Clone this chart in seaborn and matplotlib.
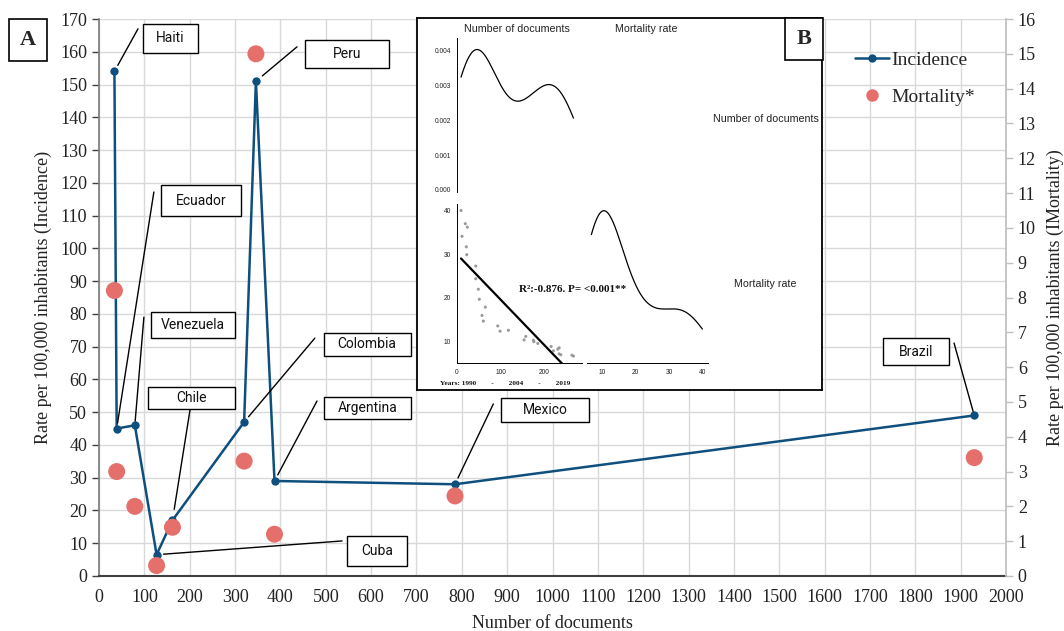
import numpy as np
import pandas as pd
import matplotlib
matplotlib.use("Agg")
import matplotlib.pyplot as plt
import matplotlib.transforms as mtransforms
from matplotlib.patches import Rectangle
from matplotlib.lines import Line2D
import seaborn as sns

# ---------------- data ----------------
countries = ["Haiti", "Ecuador", "Venezuela", "Cuba", "Chile", "Colombia",
             "Peru", "Argentina", "Mexico", "Brazil"]
documents = [34, 39, 79, 127, 162, 320, 346, 387, 785, 1930]
incidence = [154, 45, 46, 6.5, 17, 47, 151, 29, 28, 49]
mortality = [8.2, 3.0, 2.0, 0.3, 1.4, 3.3, 15.0, 1.2, 2.3, 3.4]

# inset (B): yearly documents vs mortality rate, 1990-2019
yearly_documents = [9.8, 12.1, 19.6, 24.2, 21.9, 22.8, 43.4, 43.4, 49.3, 51.6,
                    65.3, 57.8, 60.7, 93.6, 98.9, 117.8, 153.7, 157.5, 174.9, 176.0,
                    184.9, 215.3, 220.5, 230.6, 233.6, 233.6, 237.4, 262.6, 266.2]
yearly_mortality = [40.0, 34.1, 37.0, 36.2, 31.7, 29.9, 27.3, 24.4, 22.0, 19.7,
                    17.9, 16.0, 14.7, 13.6, 12.4, 12.6, 10.4, 11.2, 10.3, 10.0,
                    9.6, 8.9, 7.9, 8.3, 8.6, 7.2, 7.0, 6.9, 6.7]

x_ticks = list(range(0, 2001, 100))
left_ticks = list(range(0, 171, 10))
right_ticks = list(range(0, 17))

df = pd.DataFrame({"country": countries, "documents": documents,
                   "incidence": incidence, "mortality": mortality})
dfy = pd.DataFrame({"docs": yearly_documents, "mort": yearly_mortality})

# label layout: box centre (data coords), leader end (data coords), box size (px), gap at point (pt)
label_layout = {
    "Haiti":     dict(box=(156.6, 164.2), end=(86, 167.0), size=(55, 29), gap=5),
    "Ecuador":   dict(box=(225, 114.5), end=(121, 117.2), size=(80, 31), gap=4),
    "Venezuela": dict(box=(207, 76.6), end=(99, 79.0), size=(84, 26), gap=3),
    "Cuba":      dict(box=(613, 7.6), end=(536, 10.7), size=(60, 30), gap=5),
    "Chile":     dict(box=(205, 54.3), end=(200.7, 50.7), size=(87, 22), gap=8),
    "Colombia":  dict(box=(591, 70.8), end=(476, 72.6), size=(87, 23), gap=5),
    "Peru":      dict(box=(547, 159.3), end=(436.6, 161.5), size=(84, 28), gap=6),
    "Argentina": dict(box=(593, 51.3), end=(480.7, 53.4), size=(87, 22), gap=5),
    "Mexico":    dict(box=(983.5, 50.7), end=(869.5, 52.5), size=(88, 24), gap=5),
    "Brazil":    dict(box=(1801.6, 68.4), end=(1885.4, 71.1), size=(66, 27), gap=3),
}

BLUE = "#0E4F7E"
RED = "#E5706B"
SERIF = "Liberation Serif"
SANS = "Liberation Sans"

sns.set_theme(style="white")
plt.rcParams["font.family"] = [SERIF, "DejaVu Serif"]

W, H = 1064, 631
fig = plt.figure(figsize=(W / 100, H / 100), dpi=100)

def fbox(l, t, r, b):
    return [l / W, 1 - b / H, (r - l) / W, (b - t) / H]

ax = fig.add_axes(fbox(99, 19, 1006, 576))
ax.set_xlim(0, 2000)
ax.set_ylim(0, 170)
ax.set_xticks(x_ticks)
ax.set_yticks(left_ticks)
ax.grid(True, color="#D9D9D9", lw=1.0)
ax.set_axisbelow(True)
for s in ["top", "right"]:
    ax.spines[s].set_visible(False)
ax.spines["left"].set_color("#7F7F7F")
ax.spines["bottom"].set_color("#404040")
ax.spines["bottom"].set_linewidth(1.5)
ax.tick_params(axis="both", direction="out", length=5, width=1, colors="#404040",
               labelsize=13, labelcolor="#222222")
ax.tick_params(axis="x", pad=4)

sns.lineplot(data=df, x="documents", y="incidence", ax=ax, color=BLUE, lw=1.8,
             marker="o", markersize=6, markeredgewidth=0, sort=False,
             estimator=None, zorder=3)
ax.set_xlabel("Number of documents", fontsize=13, color="#222222", labelpad=7)
ax.set_ylabel("Rate per 100,000 inhabitants (Incidence)", fontsize=13,
              color="#222222", labelpad=6)

ax2 = ax.twinx()
ax2.set_ylim(0, 16)
ax2.set_yticks(right_ticks)
sns.scatterplot(data=df, x="documents", y="mortality", ax=ax2, color=RED,
                s=150, edgecolor="none", zorder=2)
for s in ["top", "left", "bottom"]:
    ax2.spines[s].set_visible(False)
ax2.spines["right"].set_color("#BFBFBF")
ax2.tick_params(axis="y", direction="out", length=5, width=1, colors="#BFBFBF",
                labelsize=13, labelcolor="#222222")
ax2.set_ylabel("Rate per 100,000 inhabitants (IMortality)", fontsize=13,
               color="#222222", labelpad=8)
ax2.grid(False)

# labels with leader lines
fig.canvas.draw()
for _, row in df.iterrows():
    lay = label_layout[row["country"]]
    ax.annotate("", xy=(row["documents"], row["incidence"]), xytext=lay["end"],
                arrowprops=dict(arrowstyle="-", color="black", lw=1.0,
                                shrinkA=0, shrinkB=lay["gap"]), zorder=4)
    cx, cy = ax.transData.transform(lay["box"])
    w, h = lay["size"]
    rect = Rectangle((cx - w / 2, cy - h / 2), w, h, transform=mtransforms.IdentityTransform(),
                     facecolor="white", edgecolor="black", lw=1.0, zorder=4)
    ax.add_artist(rect)
    ax.text(lay["box"][0], lay["box"][1], row["country"], ha="center", va="center",
            fontsize=10, family=["Roboto", "DejaVu Sans"], color="#111111", zorder=5)

# legend
handles = [Line2D([0], [0], color=BLUE, lw=1.8, marker="o", ms=6, mew=0),
           Line2D([0], [0], color=RED, lw=0, marker="o", ms=9, mew=0)]
fig.legend(handles, ["Incidence", "Mortality*"], loc="upper left",
           bbox_to_anchor=(837 / W, 1 - 34 / H), frameon=False, fontsize=14,
           handlelength=1.75, handletextpad=0.15, labelspacing=1.0)

# panel label A
fig.text(28 / W, 1 - 40 / H, "A", ha="center", va="center", fontsize=16,
         fontweight="bold", bbox=dict(boxstyle="square,pad=0.5", fc="white",
                                      ec="black", lw=1.2))

# ---------------- inset B ----------------
frame = fig.add_axes(fbox(417, 18, 822, 390), zorder=5)
frame.set_facecolor("white")
frame.set_xticks([])
frame.set_yticks([])
for s in frame.spines.values():
    s.set_color("black")
    s.set_linewidth(1.3)
    s.set_visible(True)

tick_kw = dict(labelsize=4.8, length=2.5, width=0.6, colors="#222222", pad=1.5)

# top-left: density of documents
a1 = fig.add_axes(fbox(456.7, 37.7, 581.7, 192), zorder=6)
a1.patch.set_alpha(0)
sns.kdeplot(data=dfy, x="docs", ax=a1, cut=0, color="black", lw=0.9)
a1.set_xlim(0, 285)
a1.set_ylim(-0.00006, 0.00438)
a1.set_yticks([0.000, 0.001, 0.002, 0.003, 0.004])
a1.set_yticklabels(["0.000", "0.001", "0.002", "0.003", "0.004"], family=SANS)
a1.set_xticks([])
a1.set_xlabel("")
a1.set_ylabel("")
for s in ["top", "right", "bottom"]:
    a1.spines[s].set_visible(False)
a1.spines["left"].set_color("black")
a1.spines["left"].set_linewidth(0.7)
a1.tick_params(axis="y", direction="out", **tick_kw)

# bottom-left: scatter with fit line
a2 = fig.add_axes(fbox(456.7, 204, 581.7, 363.3), zorder=6)
a2.patch.set_alpha(0)
sns.scatterplot(data=dfy, x="docs", y="mort", ax=a2, color="#9A9A9A", s=5,
                marker="o", edgecolor="none")
sns.regplot(data=dfy, x="docs", y="mort", ax=a2, scatter=False, ci=None,
            color="black", line_kws=dict(lw=1.6))
a2.set_xlim(0, 285)
a2.set_ylim(5.05, 41.5)
a2.set_xticks([0, 100, 200])
a2.set_yticks([10, 20, 30, 40])
a2.set_xticklabels(["0", "100", "200"], family=SANS)
a2.set_yticklabels(["10", "20", "30", "40"], family=SANS)
a2.set_xlabel("")
a2.set_ylabel("")
for s in ["top", "right"]:
    a2.spines[s].set_visible(False)
for s in ["left", "bottom"]:
    a2.spines[s].set_color("black")
    a2.spines[s].set_linewidth(0.7)
a2.tick_params(axis="both", direction="out", **tick_kw)

# bottom-right: density of mortality
a3 = fig.add_axes(fbox(586.7, 204, 707.7, 363.3), zorder=6)
a3.patch.set_alpha(0)
sns.kdeplot(data=dfy, x="mort", ax=a3, cut=0, color="black", lw=0.9)
a3.set_xlim(5.3, 41.6)
ymax = max(a3.lines[0].get_ydata())
a3.set_ylim(0, ymax / 0.958)
a3.set_xticks([10, 20, 30, 40])
a3.set_xticklabels(["10", "20", "30", "40"], family=SANS)
a3.set_yticks([])
a3.set_xlabel("")
a3.set_ylabel("")
for s in ["top", "right", "left"]:
    a3.spines[s].set_visible(False)
a3.spines["bottom"].set_color("black")
a3.spines["bottom"].set_linewidth(0.7)
a3.tick_params(axis="x", direction="out", **tick_kw)

txt_kw = dict(family=SANS, fontsize=7.7, color="#222222", ha="center",
              va="center", zorder=7)
fig.text(517 / W, 1 - 29.3 / H, "Number of documents", **txt_kw)
fig.text(646.7 / W, 1 - 29.3 / H, "Mortality rate", **txt_kw)
fig.text(765.7 / W, 1 - 119.3 / H, "Number of documents", **txt_kw)
fig.text(765.7 / W, 1 - 284.3 / H, "Mortality rate", **txt_kw)
fig.text(573 / W, 1 - 290 / H, "R²:-0.876. P= <0.001**", family=SERIF,
         fontsize=8, fontweight="bold", color="#111111", ha="center", va="center",
         zorder=7)
fig.text(440 / W, 1 - 383.3 / H, "Years: 1990        -        2004        -        2019",
         family=SERIF, fontsize=5.2, fontweight="bold", color="#111111", ha="left",
         va="center", zorder=7)

# panel label B
fig.text(804 / W, 1 - 39 / H, "B", ha="center", va="center", fontsize=16,
         fontweight="bold", zorder=8,
         bbox=dict(boxstyle="square,pad=0.5", fc="white", ec="black", lw=1.2))

fig.savefig("out.png", dpi=100)
